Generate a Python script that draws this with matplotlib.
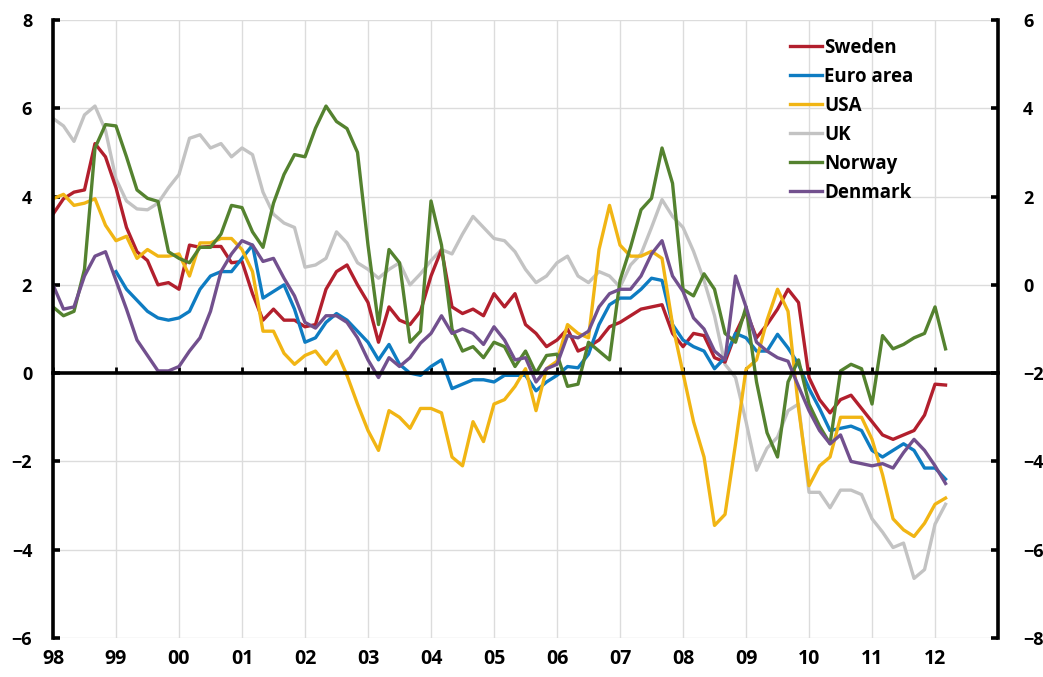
import matplotlib.pyplot as plt
import numpy as np

plt.rcParams['font.family'] = ['Open Sans', 'DejaVu Sans']
plt.rcParams['font.weight'] = 'bold'

# bimonthly readings, Jan 1998 to Mar 2012
start_year = 1998
n_obs = 86
t = start_year + np.arange(n_obs) / 6

sweden = [3.6, 3.95, 4.1, 4.15, 5.2, 4.9, 4.2, 3.3, 2.75, 2.55,
          2.0, 2.05, 1.9, 2.9, 2.85, 2.87, 2.87, 2.5, 2.53, 1.8,
          1.2, 1.45, 1.2, 1.2, 1.05, 1.1, 1.9, 2.3, 2.45, 2.0,
          1.6, 0.7, 1.5, 1.2, 1.1, 1.4, 2.2, 2.8, 1.5, 1.35,
          1.45, 1.3, 1.8, 1.5, 1.8, 1.1, 0.9, 0.6, 0.75, 1.0,
          0.5, 0.6, 0.75, 1.05, 1.15, 1.3, 1.45, 1.5, 1.55, 0.9,
          0.6, 0.9, 0.85, 0.35, 0.25, 0.9, 1.4, 0.8, 1.1, 1.45,
          1.9, 1.6, -0.1, -0.6, -0.9, -0.6, -0.5, -0.8, -1.1, -1.4,
          -1.5, -1.4, -1.3, -0.95, -0.25, -0.27]

# euro area series starts Jan 1999
euro_start = 6
euro_area = [2.3, 1.9, 1.65, 1.4, 1.25, 1.2, 1.25, 1.4, 1.9, 2.2,
             2.3, 2.3, 2.6, 2.9, 1.7, 1.85, 2.0, 1.45, 0.7, 0.8,
             1.15, 1.35, 1.2, 0.95, 0.7, 0.3, 0.65, 0.2, 0.0, -0.05,
             0.15, 0.3, -0.35, -0.25, -0.15, -0.15, -0.2, -0.05, -0.05, -0.05,
             -0.4, -0.2, -0.05, 0.15, 0.12, 0.43, 1.1, 1.55, 1.7, 1.7,
             1.9, 2.15, 2.1, 1.1, 0.75, 0.6, 0.5, 0.1, 0.35, 0.9,
             0.8, 0.5, 0.5, 0.88, 0.57, 0.2, -0.35, -0.8, -1.3, -1.25,
             -1.2, -1.3, -1.75, -1.9, -1.75, -1.6, -1.75, -2.15, -2.15, -2.4]

usa = [3.95, 4.05, 3.8, 3.85, 3.95, 3.35, 3.0, 3.1, 2.6, 2.8,
       2.65, 2.65, 2.7, 2.2, 2.95, 2.95, 3.05, 3.05, 2.8, 2.3,
       0.95, 0.95, 0.45, 0.2, 0.4, 0.5, 0.2, 0.5, -0.05, -0.7,
       -1.3, -1.75, -0.85, -1.0, -1.25, -0.8, -0.8, -0.9, -1.9, -2.1,
       -1.1, -1.55, -0.7, -0.6, -0.3, 0.1, -0.85, 0.1, 0.27, 1.1,
       0.9, 0.8, 2.8, 3.8, 2.9, 2.65, 2.65, 2.76, 2.6, 1.1,
       0.0, -1.1, -1.9, -3.45, -3.2, -1.6, 0.09, 0.3, 1.2, 1.9,
       1.4, -0.8, -2.55, -2.1, -1.9, -1.0, -1.0, -1.0, -1.5, -2.3,
       -3.3, -3.55, -3.7, -3.4, -2.97, -2.83]

uk = [5.77, 5.6, 5.25, 5.85, 6.05, 5.5, 4.4, 3.9, 3.72, 3.7,
      3.85, 4.2, 4.5, 5.32, 5.4, 5.1, 5.2, 4.9, 5.1, 4.95,
      4.1, 3.6, 3.4, 3.3, 2.4, 2.45, 2.6, 3.2, 2.95, 2.5,
      2.35, 2.15, 2.35, 2.5, 2.0, 2.25, 2.55, 2.8, 2.7, 3.15,
      3.55, 3.3, 3.05, 3.0, 2.75, 2.35, 2.05, 2.2, 2.5, 2.65,
      2.2, 2.05, 2.3, 2.2, 1.95, 2.45, 2.7, 3.3, 3.93, 3.55,
      3.3, 2.76, 2.1, 1.3, 0.2, -0.1, -1.1, -2.2, -1.7, -1.45,
      -0.85, -0.7, -2.7, -2.7, -3.05, -2.65, -2.65, -2.75, -3.3, -3.6,
      -3.95, -3.85, -4.65, -4.45, -3.42, -2.97]

norway = [1.5, 1.3, 1.4, 2.35, 5.1, 5.63, 5.6, 4.9, 4.15, 3.96,
          3.89, 2.75, 2.6, 2.5, 2.85, 2.85, 3.15, 3.8, 3.75, 3.2,
          2.85, 3.85, 4.5, 4.95, 4.9, 5.55, 6.05, 5.7, 5.54, 5.0,
          2.9, 1.1, 2.8, 2.5, 0.7, 0.95, 3.9, 2.9, 1.0, 0.5,
          0.6, 0.35, 0.7, 0.6, 0.15, 0.5, 0.0, 0.4, 0.43, -0.3,
          -0.25, 0.7, 0.5, 0.3, 2.1, 2.85, 3.7, 3.96, 5.1, 4.3,
          1.9, 1.75, 2.25, 1.9, 0.9, 0.7, 1.5, -0.2, -1.35, -1.9,
          -0.2, 0.3, -0.7, -1.2, -1.6, 0.05, 0.2, 0.1, -0.7, 0.85,
          0.55, 0.65, 0.8, 0.9, 1.5, 0.55]

denmark = [2.0, 1.45, 1.5, 2.2, 2.65, 2.75, 2.1, 1.45, 0.75, 0.4,
           0.05, 0.05, 0.15, 0.5, 0.8, 1.4, 2.3, 2.7, 3.0, 2.9,
           2.53, 2.6, 2.15, 1.75, 1.15, 1.02, 1.3, 1.3, 1.15, 0.8,
           0.3, -0.1, 0.35, 0.15, 0.35, 0.68, 0.9, 1.3, 0.9, 1.0,
           0.9, 0.65, 1.05, 0.75, 0.3, 0.35, -0.2, 0.1, 0.2, 0.85,
           0.8, 0.95, 1.5, 1.8, 1.9, 1.9, 2.2, 2.7, 3.0, 2.2,
           1.85, 1.25, 1.0, 0.5, 0.3, 2.2, 1.5, 0.7, 0.5, 0.35,
           0.27, -0.3, -0.85, -1.3, -1.6, -1.4, -2.0, -2.05, -2.1, -2.05,
           -2.15, -1.8, -1.5, -1.75, -2.1, -2.5]

series = [
    ("Sweden", t, sweden, "#B21F2D"),
    ("Euro area", t[euro_start:], euro_area, "#0E7CC2"),
    ("USA", t, usa, "#F1B514"),
    ("UK", t, uk, "#C3C3C3"),
    ("Norway", t, norway, "#54822F"),
    ("Denmark", t, denmark, "#72508E"),
]

years = np.arange(1998, 2013)
year_labels = [f"{y % 100:02d}" for y in years]
left_ticks = np.arange(-6, 9, 2)
right_ticks = np.arange(-8, 7, 2)

fig = plt.figure(figsize=(10.43, 6.77), dpi=100)
ax = fig.add_axes([0.0508, 0.0576, 0.9061, 0.9129])

for name, x, y, color in series:
    z = 1 if name == "UK" else 2
    ax.plot(x, y, color=color, lw=2.4, label=name, zorder=z)

ax.set_xlim(1998, 2013)
ax.set_ylim(-6, 8)
ax.set_xticks(years)
ax.set_yticks(left_ticks)
ax.grid(color="#DCDCDC", lw=1)
ax.set_axisbelow(True)

# zero line acts as the x axis
ax.spines["bottom"].set_position(("data", 0))
ax.spines["bottom"].set_linewidth(2.6)
ax.spines["bottom"].set_zorder(3)
ax.spines["left"].set_linewidth(2.6)
ax.spines["top"].set_visible(False)
ax.spines["right"].set_visible(False)
ax.tick_params(axis="x", direction="in", length=4, width=2, labelbottom=False)
ax.tick_params(axis="y", direction="in", length=5, width=2.6, labelsize=13, pad=15)

sec = ax.secondary_xaxis(0)
sec.set_xticks(years, year_labels)
sec.tick_params(length=0, labelsize=14, pad=8)
sec.spines["bottom"].set_visible(False)

ax2 = ax.twinx()
ax2.set_ylim(-8, 6)
ax2.set_yticks(right_ticks)
for s in ["left", "top", "bottom"]:
    ax2.spines[s].set_visible(False)
ax2.spines["right"].set_linewidth(2.6)
ax2.tick_params(axis="y", direction="in", length=5, width=2.6, labelsize=13, pad=18)

ax.legend(loc="upper left", bbox_to_anchor=(0.757, 0.944), bbox_transform=fig.transFigure,
          frameon=False, handlelength=1.75, handletextpad=0.1, labelspacing=0.48,
          borderpad=0, borderaxespad=0, prop={"weight": "bold", "size": 13.5})

fig.savefig("out.png", dpi=100)
